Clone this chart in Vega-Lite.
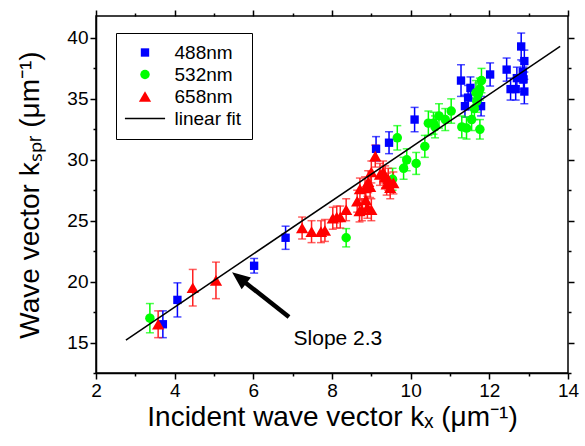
{
  "$schema": "https://vega.github.io/schema/vega-lite/v6.json",
  "width": 472,
  "height": 357,
  "autosize": {"type": "none"},
  "padding": {"left": 96, "top": 16, "right": 17, "bottom": 73},
  "background": "white",
  "config": {
    "view": {"stroke": "black", "strokeWidth": 1.5},
    "font": "Liberation Sans",
    "axis": {
      "domainColor": "black", "domainWidth": 1.5, "tickColor": "black", "tickWidth": 1.5,
      "labelColor": "black", "titleColor": "black", "labelFont": "Liberation Sans", "titleFont": "Liberation Sans",
      "labelFontSize": 19, "titleFontSize": 28, "titleFontWeight": "normal", "grid": false
    }
  },
  "datasets": {
    "pts": [
      {"series": "488nm", "x": 3.70, "y": 16.5, "err": 1.1},
      {"series": "488nm", "x": 4.07, "y": 18.5, "err": 1.4},
      {"series": "488nm", "x": 6.02, "y": 21.3, "err": 0.6},
      {"series": "488nm", "x": 6.82, "y": 23.6, "err": 0.95},
      {"series": "488nm", "x": 9.12, "y": 30.9, "err": 1.0},
      {"series": "488nm", "x": 9.45, "y": 31.4, "err": 0.9},
      {"series": "488nm", "x": 10.10, "y": 33.3, "err": 1.0},
      {"series": "488nm", "x": 11.28, "y": 36.5, "err": 1.3},
      {"series": "488nm", "x": 11.38, "y": 34.4, "err": 0.9},
      {"series": "488nm", "x": 11.46, "y": 35.1, "err": 1.0},
      {"series": "488nm", "x": 11.52, "y": 35.9, "err": 0.9},
      {"series": "488nm", "x": 11.79, "y": 34.4, "err": 0.8},
      {"series": "488nm", "x": 12.02, "y": 37.0, "err": 0.95},
      {"series": "488nm", "x": 12.44, "y": 37.4, "err": 0.95},
      {"series": "488nm", "x": 12.54, "y": 35.8, "err": 0.9},
      {"series": "488nm", "x": 12.67, "y": 35.8, "err": 0.9},
      {"series": "488nm", "x": 12.70, "y": 36.7, "err": 0.9},
      {"series": "488nm", "x": 12.81, "y": 39.3, "err": 1.1},
      {"series": "488nm", "x": 12.89, "y": 38.1, "err": 0.9},
      {"series": "488nm", "x": 12.87, "y": 36.6, "err": 1.0},
      {"series": "488nm", "x": 12.89, "y": 35.6, "err": 1.0},
      {"series": "488nm", "x": 12.85, "y": 37.2, "err": 0.9},
      {"series": "532nm", "x": 3.37, "y": 17.0, "err": 1.2},
      {"series": "532nm", "x": 8.36, "y": 23.6, "err": 0.75},
      {"series": "532nm", "x": 9.54, "y": 28.4, "err": 0.9},
      {"series": "532nm", "x": 9.66, "y": 31.8, "err": 1.0},
      {"series": "532nm", "x": 9.82, "y": 29.3, "err": 0.9},
      {"series": "532nm", "x": 9.90, "y": 30.0, "err": 0.9},
      {"series": "532nm", "x": 10.14, "y": 29.7, "err": 0.9},
      {"series": "532nm", "x": 10.36, "y": 31.1, "err": 0.9},
      {"series": "532nm", "x": 10.45, "y": 33.0, "err": 1.0},
      {"series": "532nm", "x": 10.58, "y": 33.0, "err": 0.9},
      {"series": "532nm", "x": 10.62, "y": 32.7, "err": 0.9},
      {"series": "532nm", "x": 10.72, "y": 33.6, "err": 1.0},
      {"series": "532nm", "x": 10.88, "y": 33.3, "err": 0.9},
      {"series": "532nm", "x": 11.03, "y": 34.0, "err": 1.0},
      {"series": "532nm", "x": 11.30, "y": 32.7, "err": 0.9},
      {"series": "532nm", "x": 11.42, "y": 32.6, "err": 0.9},
      {"series": "532nm", "x": 11.55, "y": 33.3, "err": 0.9},
      {"series": "532nm", "x": 11.62, "y": 34.2, "err": 0.9},
      {"series": "532nm", "x": 11.68, "y": 34.8, "err": 0.9},
      {"series": "532nm", "x": 11.72, "y": 35.4, "err": 0.9},
      {"series": "532nm", "x": 11.76, "y": 32.5, "err": 0.8},
      {"series": "532nm", "x": 11.80, "y": 36.5, "err": 1.0},
      {"series": "532nm", "x": 11.76, "y": 35.8, "err": 0.9},
      {"series": "532nm", "x": 11.66, "y": 35.5, "err": 1.0},
      {"series": "658nm", "x": 3.58, "y": 16.5, "err": 1.1},
      {"series": "658nm", "x": 4.46, "y": 19.5, "err": 1.5},
      {"series": "658nm", "x": 5.05, "y": 20.1, "err": 1.5},
      {"series": "658nm", "x": 7.24, "y": 24.4, "err": 0.9},
      {"series": "658nm", "x": 7.48, "y": 24.1, "err": 0.9},
      {"series": "658nm", "x": 7.72, "y": 24.1, "err": 0.9},
      {"series": "658nm", "x": 7.82, "y": 24.2, "err": 0.9},
      {"series": "658nm", "x": 8.02, "y": 25.2, "err": 0.9},
      {"series": "658nm", "x": 8.12, "y": 25.3, "err": 0.9},
      {"series": "658nm", "x": 8.21, "y": 25.3, "err": 0.9},
      {"series": "658nm", "x": 8.36, "y": 25.9, "err": 0.9},
      {"series": "658nm", "x": 8.64, "y": 26.6, "err": 0.9},
      {"series": "658nm", "x": 8.70, "y": 25.8, "err": 0.9},
      {"series": "658nm", "x": 8.76, "y": 25.9, "err": 0.9},
      {"series": "658nm", "x": 8.90, "y": 26.1, "err": 0.9},
      {"series": "658nm", "x": 9.00, "y": 25.9, "err": 0.9},
      {"series": "658nm", "x": 8.71, "y": 27.6, "err": 0.9},
      {"series": "658nm", "x": 8.84, "y": 27.7, "err": 0.9},
      {"series": "658nm", "x": 8.92, "y": 28.2, "err": 0.9},
      {"series": "658nm", "x": 8.97, "y": 27.8, "err": 0.9},
      {"series": "658nm", "x": 9.00, "y": 29.0, "err": 0.9},
      {"series": "658nm", "x": 9.10, "y": 30.3, "err": 0.9},
      {"series": "658nm", "x": 9.22, "y": 28.8, "err": 0.9},
      {"series": "658nm", "x": 9.30, "y": 29.0, "err": 0.9},
      {"series": "658nm", "x": 9.35, "y": 28.6, "err": 0.9},
      {"series": "658nm", "x": 9.43, "y": 28.4, "err": 0.9},
      {"series": "658nm", "x": 9.39, "y": 28.0, "err": 0.9},
      {"series": "658nm", "x": 9.56, "y": 28.1, "err": 0.9},
      {"series": "658nm", "x": 9.48, "y": 27.7, "err": 0.9},
      {"series": "658nm", "x": 8.86, "y": 26.7, "err": 0.9}
    ],
    "fit": [{"x": 2.76, "y": 15.2}, {"x": 13.8, "y": 39.3}],
    "arrow": [{"x": 6.907, "y": 17.09, "x2": 5.687, "y2": 20.2}],
    "head": [{"x": 5.66, "y": 20.26}],
    "note": [{"x": 8.15, "y": 15.3, "text": "Slope 2.3"}]
  },
  "resolve": {"axis": {"x": "independent", "y": "independent"}},
  "layer": [
    {
      "data": {"name": "pts"},
      "transform": [{"filter": "datum.series === '488nm'"}],
      "mark": {"type": "errorbar", "color": "#0000ff", "ticks": {"size": 8, "thickness": 1.5}, "thickness": 1.5},
      "encoding": {
        "x": {"field": "x", "type": "quantitative", "scale": {"domain": [2, 14], "nice": false, "zero": false}, "axis": null},
        "y": {"field": "y", "type": "quantitative", "scale": {"domain": [12.5, 41.8], "nice": false, "zero": false}, "axis": null},
        "yError": {"field": "err"}
      }
    },
    {
      "data": {"name": "pts"},
      "transform": [{"filter": "datum.series === '532nm'"}],
      "mark": {"type": "errorbar", "color": "#00ff00", "ticks": {"size": 8, "thickness": 1.5}, "thickness": 1.5},
      "encoding": {
        "x": {"field": "x", "type": "quantitative", "axis": null},
        "y": {"field": "y", "type": "quantitative", "axis": null},
        "yError": {"field": "err"}
      }
    },
    {
      "data": {"name": "pts"},
      "transform": [{"filter": "datum.series === '658nm'"}],
      "mark": {"type": "errorbar", "color": "#ff2020", "ticks": {"size": 8, "thickness": 1.5}, "thickness": 1.5},
      "encoding": {
        "x": {"field": "x", "type": "quantitative", "axis": null},
        "y": {"field": "y", "type": "quantitative", "axis": null},
        "yError": {"field": "err"}
      }
    },
    {
      "data": {"name": "pts"},
      "mark": {"type": "point", "filled": true, "opacity": 1},
      "encoding": {
        "x": {"field": "x", "type": "quantitative",
          "axis": {"orient": "bottom", "values": [2, 4, 6, 8, 10, 12, 14], "tickSize": 6,
            "labelPadding": 2, "labelFlush": false, "labelOverlap": false,
            "title": "Incident wave vector kₓ (μm⁻¹)", "titlePadding": 3}},
        "y": {"field": "y", "type": "quantitative",
          "axis": {"orient": "left", "values": [15, 20, 25, 30, 35, 40], "tickSize": 6,
            "labelPadding": 2, "labelFlush": false, "labelOverlap": false,
            "title": "Wave vector kₛₚᵣ (μm⁻¹)", "titlePadding": 22}},
        "size": {"field": "series", "type": "nominal", "legend": null,
          "scale": {"type": "ordinal", "domain": ["488nm", "532nm", "658nm", "linear fit"], "range": [70, 90, 150, 70]}},
        "color": {"field": "series", "type": "nominal",
          "scale": {"domain": ["488nm", "532nm", "658nm", "linear fit"], "range": ["#0000ff", "#00ff00", "#ff0000", "#000000"]},
          "legend": {"title": null, "orient": "none", "legendX": 20, "legendY": 17, "strokeColor": "black",
            "padding": 10, "labelFontSize": 19, "labelFont": "Liberation Sans", "labelColor": "black",
            "symbolOffset": 9.5, "labelOffset": 20, "rowPadding": 2,
            "encode": {
              "legend": {"update": {"strokeWidth": {"value": 1.5}}},
              "symbols": {"update": {
              "size": {"signal": "datum.value === '658nm' ? 130 : 70"}}}}}},
        "shape": {"field": "series", "type": "nominal",
          "scale": {"domain": ["488nm", "532nm", "658nm", "linear fit"], "range": ["square", "circle", "triangle-up", "M-4.8,-0.18H4.8V0.18H-4.8Z"]},
          "legend": {"title": null, "orient": "none", "legendX": 20, "legendY": 17, "strokeColor": "black",
            "padding": 10, "labelFontSize": 19, "labelFont": "Liberation Sans", "labelColor": "black",
            "symbolOffset": 9.5, "labelOffset": 20, "rowPadding": 2,
            "encode": {
              "legend": {"update": {"strokeWidth": {"value": 1.5}}},
              "symbols": {"update": {
              "size": {"signal": "datum.value === '658nm' ? 130 : 70"}}}}}}
      }
    },
    {
      "data": {"name": "fit"},
      "mark": {"type": "line", "color": "black", "strokeWidth": 1.5},
      "encoding": {
        "x": {"field": "x", "type": "quantitative",
          "axis": {"orient": "top", "values": [2, 3, 4, 5, 6, 7, 8, 9, 10, 11, 12, 13, 14], "labels": false, "domain": false, "title": null,
            "tickSize": {"condition": {"test": "datum.value % 2 === 0", "value": 6}, "value": 3}}},
        "y": {"field": "y", "type": "quantitative",
          "axis": {"orient": "right", "values": [12.5, 15, 17.5, 20, 22.5, 25, 27.5, 30, 32.5, 35, 37.5, 40], "labels": false, "domain": false, "title": null,
            "tickSize": {"condition": {"test": "datum.value % 5 === 0", "value": 6}, "value": 3}}}
      }
    },
    {
      "data": {"name": "arrow"},
      "mark": {"type": "rule", "color": "black", "strokeWidth": 4.5},
      "encoding": {
        "x": {"field": "x", "type": "quantitative",
          "axis": {"orient": "bottom", "values": [3, 5, 7, 9, 11, 13], "labels": false, "domain": false, "title": null, "tickSize": 3}},
        "y": {"field": "y", "type": "quantitative",
          "axis": {"orient": "left", "values": [12.5, 17.5, 22.5, 27.5, 32.5, 37.5], "labels": false, "domain": false, "title": null, "tickSize": 3}},
        "x2": {"field": "x2"},
        "y2": {"field": "y2"}
      }
    },
    {
      "data": {"name": "head"},
      "mark": {"type": "point", "shape": "M0,-1L0.75,0.8L-0.75,0.8Z", "filled": true, "color": "black", "opacity": 1, "size": 400, "angle": 308},
      "encoding": {
        "x": {"field": "x", "type": "quantitative", "axis": null},
        "y": {"field": "y", "type": "quantitative", "axis": null}
      }
    },
    {
      "data": {"name": "note"},
      "mark": {"type": "text", "font": "Liberation Sans", "fontSize": 21, "color": "black", "align": "center", "baseline": "middle"},
      "encoding": {
        "x": {"field": "x", "type": "quantitative", "axis": null},
        "y": {"field": "y", "type": "quantitative", "axis": null},
        "text": {"field": "text"}
      }
    }
  ]
}
